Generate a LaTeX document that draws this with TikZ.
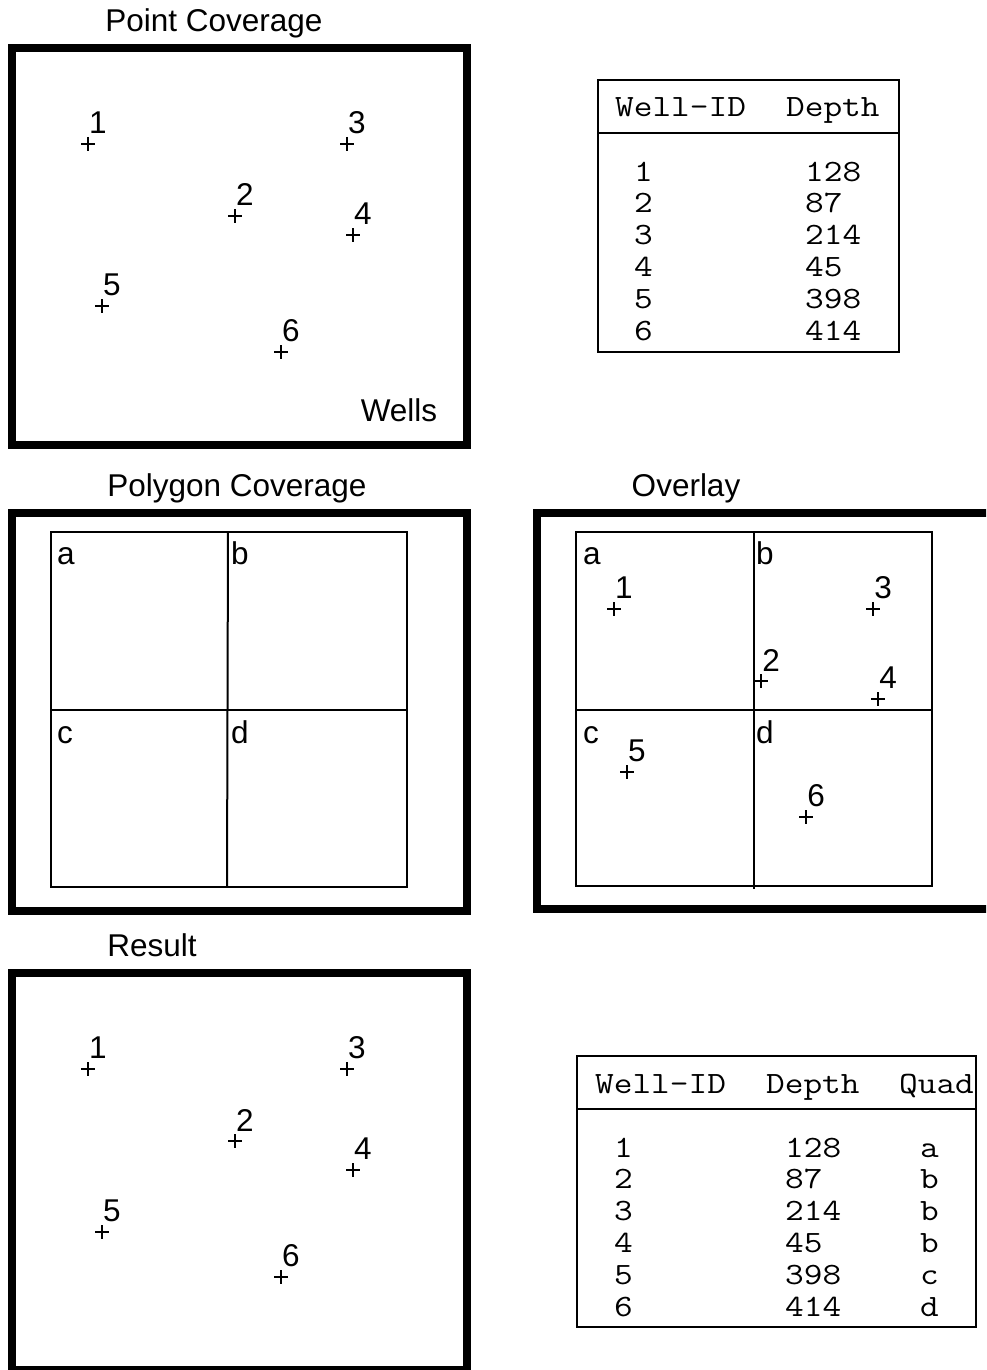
\documentclass[tikz,border=0pt]{standalone}
\usepackage{fontspec}
\setmainfont{Liberation Sans}
\newcommand\mytt[1]{\scalebox{1.17}[1]{#1}}
\begin{document}
\begin{tikzpicture}[x=1pt,y=-1pt,
  frame/.style={line width=8pt},
  gridline/.style={line width=2pt},
  tbl/.style={line width=2pt},
  num/.style={inner sep=0pt, font=\fontsize{31.5}{36}\selectfont},
  title/.style={inner sep=0pt, anchor=base, font=\fontsize{31.5}{36}\selectfont},
  quad/.style={inner sep=0pt, anchor=base west, font=\fontsize{31.5}{36}\selectfont},
  cell/.style={inner sep=0pt, anchor=base west, font=\ttfamily\fontsize{31}{32}\selectfont},
  pics/well/.style={code={
    \draw[line width=2.4pt] (-7,0) -- (7,0) (0,-7) -- (0,7);
    \node[num] (-lab) at (10,-21) {#1};
  }}
]
\path[use as bounding box, clip] (0,0) rectangle (986,1370);
\fill[white] (0,0) rectangle (986,1370);

% ---------- Point Coverage ----------
\node[title] (tPoint) at (214,32) {Point Coverage};
\draw[frame] (12,48) rectangle (467,445);
\pic (pa1) at (88,144) {well=1};
\pic (pa2) at (235,216) {well=2};
\pic (pa3) at (347,144) {well=3};
\pic (pa4) at (353,235) {well=4};
\pic (pa5) at (102,306) {well=5};
\pic (pa6) at (281,352) {well=6};
\node[title] (wells) at (399,421) {Wells};

% ---------- Table 1 ----------
\draw[tbl] (598,80) rectangle (899,352);
\draw[tbl] (598,133) -- (899,133);
\node[cell] (ta-h1) at (615,117) {\mytt{Well-ID}};
\node[cell] (ta-h2) at (786,117) {\mytt{Depth}};
\foreach \i/\dep in {1/128,2/87,3/214,4/45,5/398,6/414}{
  \node[cell] (ta-id\i) at (634,{181+31.8*(\i-1)}) {\mytt{\i}};
  \node[cell] (ta-dp\i) at (805,{181+31.8*(\i-1)}) {\mytt{\dep}};
}

% ---------- Polygon Coverage ----------
\node[title] (tPoly) at (237,496) {Polygon Coverage};
\draw[frame] (12,513) rectangle (467,911);
\draw[gridline] (51,532) rectangle (407,887);
\draw[gridline] (51,710) -- (407,710);
\draw[gridline] (228,532) -- (227,887);
\node[quad] (pg-a) at (57,564) {a};
\node[quad] (pg-b) at (231,564) {b};
\node[quad] (pg-c) at (57,743) {c};
\node[quad] (pg-d) at (231,743) {d};

% ---------- Overlay ----------
\node[title] (tOver) at (686,496) {Overlay};
\draw[frame] (537,513) rectangle (1000,909);
\draw[gridline] (576,532) rectangle (932,886);
\draw[gridline] (576,710) -- (932,710);
\draw[gridline] (754,532) -- (754,889);
\node[quad] (ov-a) at (583,564) {a};
\node[quad] (ov-b) at (756,564) {b};
\node[quad] (ov-c) at (583,743) {c};
\node[quad] (ov-d) at (756,743) {d};
\pic (ov1) at (614,609) {well=1};
\pic (ov2) at (761,681) {well=2};
\pic (ov3) at (873,609) {well=3};
\pic (ov4) at (878,699) {well=4};
\pic (ov5) at (627,772) {well=5};
\pic (ov6) at (806,817) {well=6};

% ---------- Result ----------
\node[title] (tRes) at (152,956) {Result};
\draw[frame] (12,973) rectangle (467,1370);
\pic (rs1) at (88,1069) {well=1};
\pic (rs2) at (235,1141) {well=2};
\pic (rs3) at (347,1069) {well=3};
\pic (rs4) at (353,1170) {well=4};
\pic (rs5) at (102,1232) {well=5};
\pic (rs6) at (281,1277) {well=6};

% ---------- Table 2 ----------
\draw[tbl] (577,1056) rectangle (976,1327);
\draw[tbl] (577,1109) -- (976,1109);
\node[cell] (tb-h1) at (595,1093) {\mytt{Well-ID}};
\node[cell] (tb-h2) at (766,1093) {\mytt{Depth}};
\node[cell] (tb-h3) at (899,1093) {\mytt{Quad}};
\foreach \i/\dep/\q in {1/128/a,2/87/b,3/214/b,4/45/b,5/398/c,6/414/d}{
  \node[cell] (tb-id\i) at (614,{1157+31.8*(\i-1)}) {\mytt{\i}};
  \node[cell] (tb-dp\i) at (785,{1157+31.8*(\i-1)}) {\mytt{\dep}};
  \node[cell] (tb-q\i) at (920,{1157+31.8*(\i-1)}) {\mytt{\q}};
}
\end{tikzpicture}
\end{document}
